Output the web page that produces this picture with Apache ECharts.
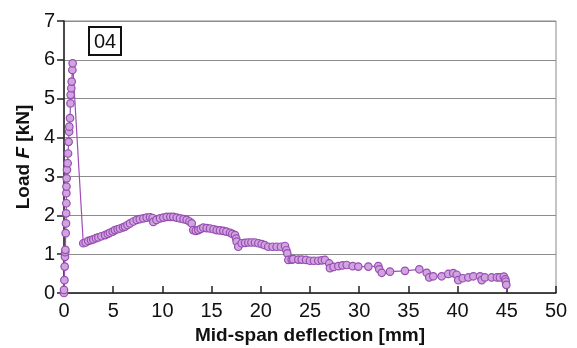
<!DOCTYPE html>
<html>
<head>
<meta charset="utf-8">
<script src="https://cdn.jsdelivr.net/npm/echarts@6/dist/echarts.min.js"></script>
<style>
html, body { margin: 0; padding: 0; background: #fff; }
#chart { width: 577px; height: 348px; }
</style>
</head>
<body>
<div id="chart"></div>
<script>
// mid-span deflection [mm]
var deflection = [
  0, 0, 0.04, 0.07, 0.1, 0.12, 0.14, 0.17, 0.2, 0.22, 0.24, 0.24, 0.25, 0.27, 0.3, 0.37, 0.41, 0.47, 0.52, 0.54,
  0.61, 0.66, 0.68, 0.74, 0.78, 0.85, 0.88,
  1.96, 2.2, 2.47, 2.75, 2.98, 3.25, 3.49, 3.8, 4.17, 4.45, 4.67, 4.95, 5.18, 5.45, 5.69, 6.0, 6.2, 6.45, 6.71,
  7.05, 7.39, 7.7, 8.06, 8.4, 8.74, 9.0, 9.08, 9.4, 9.76, 10.1, 10.44, 10.8, 11.11, 11.45, 11.79, 12.15, 12.47,
  12.75, 12.98, 13.14, 13.4, 13.65, 13.9, 14.16, 14.5, 14.84, 15.2, 15.52, 15.85, 16.19, 16.5, 16.87, 17.1, 17.38,
  17.5, 17.55, 17.71, 18.06, 18.4, 18.73, 19.05, 19.41, 19.75, 20.09, 20.4, 20.76, 21.2, 21.61, 22.05, 22.46,
  22.6, 22.69, 22.8, 23.14, 23.3, 23.81, 24.16, 24.6, 25.0, 25.4, 25.84, 26.2, 26.52, 26.96, 27.03, 27.4, 27.88,
  28.3, 28.73, 29.34, 29.91, 30.93, 31.94, 32.04, 32.29, 33.13, 34.65, 36.11, 36.86, 37.12, 37.53, 38.38, 39.05,
  39.56, 39.91, 40.07, 40.52, 41.09, 41.6, 42.28, 42.45, 42.78, 43.46, 44.0, 44.3, 44.7, 44.85, 44.9, 44.95
];
// load F [kN]
var load = [
  0, 0.08, 0.33, 0.68, 0.93, 1.05, 1.11, 1.54, 1.79, 2.05, 2.31, 2.57, 2.74, 2.95, 3.17, 3.34, 3.59, 3.89, 4.15, 4.28,
  4.5, 4.88, 5.1, 5.27, 5.44, 5.74, 5.91,
  1.28, 1.30, 1.34, 1.36, 1.38, 1.41, 1.43, 1.46, 1.49, 1.52, 1.55, 1.58, 1.62, 1.64, 1.66, 1.69, 1.71, 1.75, 1.79,
  1.84, 1.88, 1.90, 1.92, 1.94, 1.95, 1.93, 1.83, 1.88, 1.92, 1.94, 1.96, 1.96, 1.96, 1.94, 1.92, 1.90, 1.88,
  1.84, 1.79, 1.62, 1.60, 1.62, 1.65, 1.68, 1.67, 1.66, 1.64, 1.62, 1.61, 1.60, 1.58, 1.55, 1.52, 1.49,
  1.40, 1.32, 1.19, 1.28, 1.29, 1.30, 1.30, 1.30, 1.28, 1.26, 1.23, 1.19, 1.19, 1.19, 1.19, 1.21,
  1.10, 1.02, 0.85, 0.86, 0.87, 0.86, 0.86, 0.85, 0.83, 0.83, 0.83, 0.84, 0.85, 0.76, 0.64, 0.67, 0.69,
  0.71, 0.72, 0.69, 0.68, 0.68, 0.69, 0.61, 0.52, 0.55, 0.57, 0.61, 0.52, 0.40, 0.43, 0.43, 0.49,
  0.51, 0.47, 0.33, 0.38, 0.40, 0.43, 0.43, 0.33, 0.40, 0.40, 0.40, 0.40, 0.42, 0.35, 0.29, 0.21
];
var specimen = '04';

var points = [];
for (var i = 0; i < deflection.length; i++) {
  points.push([deflection[i], load[i]]);
}

var fontFam = '"Liberation Sans", Arial, sans-serif';
var chart = echarts.init(document.getElementById('chart'));
chart.setOption({
  animation: false,
  grid: {
    left: 64, right: 21, top: 21, bottom: 55,
    outerBoundsMode: 'none',
    show: true, borderColor: '#888', borderWidth: 1
  },
  xAxis: {
    type: 'value', min: 0, max: 50, interval: 5,
    name: 'Mid-span deflection [mm]',
    nameLocation: 'middle', nameGap: 33,
    nameTextStyle: { fontFamily: fontFam, fontSize: 19, fontWeight: 'bold', color: '#111' },
    axisLine: { lineStyle: { color: '#222', width: 1.5 } },
    axisTick: { inside: true, length: 7, lineStyle: { color: '#222', width: 1.5 } },
    axisLabel: { fontFamily: fontFam, fontSize: 20, color: '#111', margin: 8 },
    splitLine: { show: false }
  },
  yAxis: {
    type: 'value', min: 0, max: 7, interval: 1,
    name: 'Load {i|F} [kN]',
    nameLocation: 'middle', nameGap: 30,
    nameTextStyle: {
      fontFamily: fontFam, fontSize: 19, fontWeight: 'bold', color: '#111',
      rich: { i: { fontFamily: fontFam, fontSize: 19, fontWeight: 'bold', fontStyle: 'italic', color: '#111' } }
    },
    axisLine: { lineStyle: { color: '#222', width: 1.5 } },
    axisTick: { length: 7, lineStyle: { color: '#222', width: 1.5 } },
    axisLabel: { fontFamily: fontFam, fontSize: 20, color: '#111', margin: 9 },
    splitLine: { lineStyle: { color: '#8c8c8c', width: 1.2 } }
  },
  graphic: [{
    type: 'group', left: 88, top: 26,
    children: [
      { type: 'rect', shape: { x: 0, y: 0, width: 32, height: 28 },
        style: { fill: '#fff', stroke: '#111', lineWidth: 2 } },
      { type: 'text', x: 16, y: 15,
        style: { text: specimen, fontFamily: fontFam, fontSize: 20, fill: '#111',
                 align: 'center', verticalAlign: 'middle' } }
    ]
  }],
  series: [{
    type: 'line',
    data: points,
    symbol: 'circle',
    symbolSize: 7.5,
    showAllSymbol: true,
    lineStyle: { color: '#9c4fb5', width: 1.2 },
    itemStyle: { color: '#cfa4df', borderColor: '#984db2', borderWidth: 1.2 }
  }]
});
</script>
</body>
</html>
